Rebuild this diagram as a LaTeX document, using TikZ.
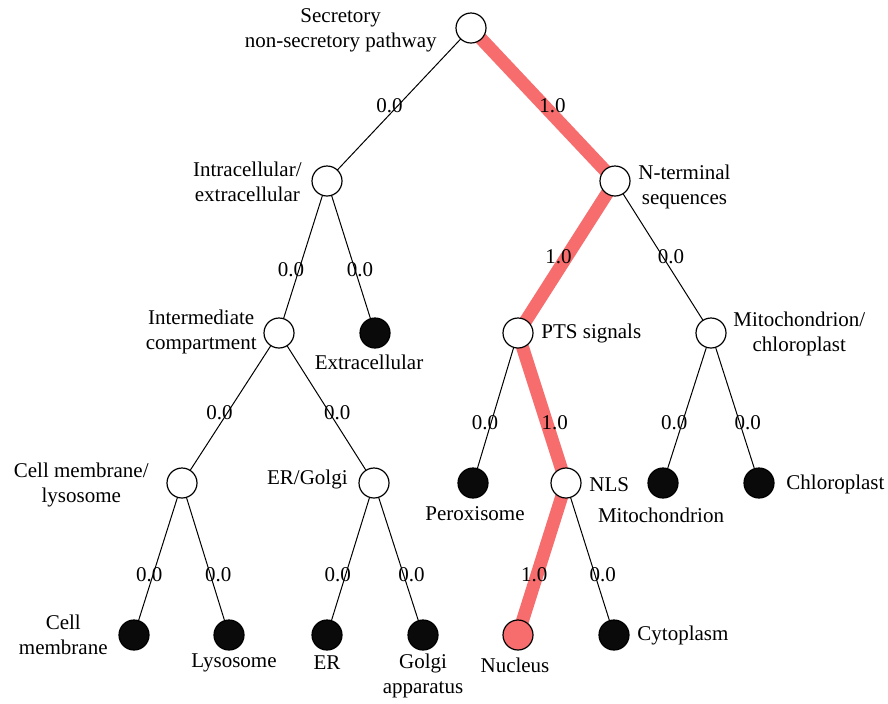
\documentclass[tikz,border=0pt]{standalone}
\usepackage{fontspec}
\setmainfont{Liberation Serif}
\usetikzlibrary{backgrounds}
\definecolor{pathred}{RGB}{247,108,108}
\begin{document}
\begin{tikzpicture}[x=0.5pt,y=-0.5pt,
    font=\fontsize{10.5}{12.5}\selectfont,
    inner/.style={circle,draw,fill=white,minimum size=15pt,inner sep=0pt,line width=0.6pt},
    leaf/.style={inner,fill=black!96},
    hit/.style={inner,fill=pathred},
    branch/.style={line width=0.5pt},
    chosen/.style={line width=6.5pt,pathred},
    lbl/.style={align=center,inner sep=0pt},
    wl/.style={pos=0.6,xshift=-4pt,inner sep=0pt},
    wr/.style={pos=0.6,xshift=4pt,inner sep=0pt}]
\useasboundingbox (0,0) rectangle (888,703);
% decision nodes
\node[inner] (root) at (471,28) {};
\node[inner] (intra) at (327,181) {};
\node[inner] (nterm) at (615,181) {};
\node[inner] (inter) at (279,333) {};
\node[leaf] (extra) at (375,333) {};
\node[inner] (pts) at (518,333) {};
\node[inner] (mc) at (711,333) {};
\node[inner] (cml) at (182,483) {};
\node[inner] (ergo) at (374,483) {};
\node[leaf] (perox) at (473,483) {};
\node[inner] (nls) at (566,483) {};
\node[leaf] (mito) at (663,483) {};
\node[leaf] (chloro) at (759,483) {};
\node[leaf] (cellm) at (134,635) {};
\node[leaf] (lyso) at (229,635) {};
\node[leaf] (er) at (327,635) {};
\node[leaf] (golgi) at (423,635) {};
\node[hit] (nucl) at (518,635) {};
\node[leaf] (cyto) at (614,635) {};
% texts
\node[lbl,anchor=east] (root-t) at (437,30) {Secretory\\non-secretory pathway};
\node[lbl,anchor=east] (intra-t) at (302,182) {Intracellular/\\extracellular};
\node[lbl,anchor=west] (nterm-t) at (638,187) {N-terminal\\sequences};
\node[lbl,anchor=east] (inter-t) at (257,332) {Intermediate\\compartment};
\node[lbl] (extra-t) at (369,362) {Extracellular};
\node[lbl,anchor=west] (pts-t) at (541,333) {PTS signals};
\node[lbl,anchor=west] (mc-t) at (733,334) {Mitochondrion/\\chloroplast};
\node[lbl,anchor=east] (cml-t) at (149,485) {Cell membrane/\\lysosome};
\node[lbl,anchor=east] (ergo-t) at (348,479) {ER/Golgi};
\node[lbl] (perox-t) at (475,514) {Peroxisome};
\node[lbl,anchor=west] (nls-t) at (589,485) {NLS};
\node[lbl] (mito-t) at (661,515) {Mitochondrion};
\node[lbl,anchor=west] (chloro-t) at (786,484) {Chloroplast};
\node[lbl,anchor=east] (cellm-t) at (108,635) {Cell\\membrane};
\node[lbl] (lyso-t) at (234,663) {Lysosome};
\node[lbl] (er-t) at (327,663) {ER};
\node[lbl] (golgi-t) at (423,676) {Golgi\\apparatus};
\node[lbl] (nucl-t) at (515,665) {Nucleus};
\node[lbl,anchor=west] (cyto-t) at (637,635) {Cytoplasm};
% branches
\begin{scope}[on background layer]
\draw[branch] (root.center) -- node[wl,pos=0.51] (w1) {0.0} (intra.center);
\draw[chosen] (root.center) -- node[wr,pos=0.51,text=black] (w2) {1.0} (nterm.center);
\draw[branch] (intra.center) -- node[wl,pos=0.585] (w3) {0.0} (inter.center);
\draw[branch] (intra.center) -- node[wr,pos=0.585,xshift=-1.5pt] (w4) {0.0} (extra.center);
\draw[chosen] (nterm.center) -- node[wl,text=black,pos=0.5] (w5) {1.0} (pts.center);
\draw[branch] (nterm.center) -- node[wr,pos=0.5] (w6) {0.0} (mc.center);
\draw[branch] (inter.center) -- node[wl,pos=0.53] (w7) {0.0} (cml.center);
\draw[branch] (inter.center) -- node[wr,pos=0.53] (w8) {0.0} (ergo.center);
\draw[branch] (pts.center) -- node[wl,xshift=1pt] (w9) {0.0} (perox.center);
\draw[chosen] (pts.center) -- node[wr,text=black] (w10) {1.0} (nls.center);
\draw[branch] (mc.center) -- node[wl] (w11) {0.0} (mito.center);
\draw[branch] (mc.center) -- node[wr] (w12) {0.0} (chloro.center);
\draw[branch] (cml.center) -- node[wl,xshift=2pt] (w13) {0.0} (cellm.center);
\draw[branch] (cml.center) -- node[wr] (w14) {0.0} (lyso.center);
\draw[branch] (ergo.center) -- node[wl] (w15) {0.0} (er.center);
\draw[branch] (ergo.center) -- node[wr] (w16) {0.0} (golgi.center);
\draw[chosen] (nls.center) -- node[wl,text=black,xshift=2.5pt] (w17) {1.0} (nucl.center);
\draw[branch] (nls.center) -- node[wr] (w18) {0.0} (cyto.center);
\end{scope}
\end{tikzpicture}
\end{document}
